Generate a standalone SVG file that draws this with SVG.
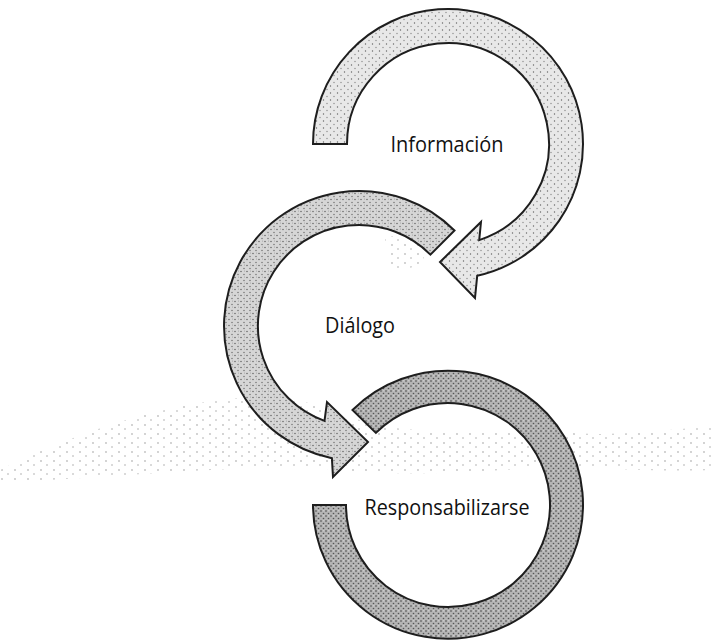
<svg xmlns="http://www.w3.org/2000/svg" width="715" height="641" viewBox="0 0 715 641">
  <defs>
    <pattern id="st1" width="7" height="7" patternUnits="userSpaceOnUse">
      <rect width="7" height="7" fill="#e8e8e8"/>
      <circle cx="1.5" cy="2" r="0.7" fill="#666"/>
      <circle cx="5" cy="5.5" r="0.7" fill="#888"/>
    </pattern>
    <pattern id="st2" width="6" height="6" patternUnits="userSpaceOnUse">
      <rect width="6" height="6" fill="#d6d6d6"/>
      <circle cx="1" cy="1.5" r="0.7" fill="#555"/>
      <circle cx="4" cy="4.5" r="0.7" fill="#666"/>
      <circle cx="4.5" cy="1" r="0.5" fill="#999"/>
    </pattern>
    <pattern id="st3" width="5" height="5" patternUnits="userSpaceOnUse">
      <rect width="5" height="5" fill="#b4b4b4"/>
      <circle cx="1" cy="1" r="0.8" fill="#444"/>
      <circle cx="3.5" cy="3.5" r="0.8" fill="#555"/>
      <circle cx="3.8" cy="0.8" r="0.5" fill="#eee"/>
    </pattern>
    <pattern id="noise" width="13" height="9" patternUnits="userSpaceOnUse">
      <circle cx="2" cy="2" r="0.7" fill="#888"/>
      <circle cx="8" cy="6" r="0.7" fill="#999"/>
    </pattern>
  </defs>
  <style>
    .arc { stroke: #1e1e1e; stroke-width: 2; stroke-linejoin: miter; }
    .lbl { font-family: "Open Sans", "Noto Sans", "Liberation Sans", sans-serif; font-size: 22px; fill: #111; text-anchor: middle; }
  </style>

  <g id="background-noise">
    <path d="M0,470 C60,440 150,405 240,398 C300,394 330,410 360,420 C420,440 500,425 560,432 C620,438 680,428 715,426 L715,470 C650,472 600,468 560,466 C500,470 420,478 340,470 C250,462 120,478 0,482 Z" fill="url(#noise)"/>
    <path d="M385,238 C405,232 420,240 425,255 C420,270 400,272 388,265 Z" fill="url(#noise)"/>
  </g>

  <g id="connectors"></g>

  <g id="node-informacion">
    <path class="arc" fill="url(#st1)" d="M313,144 A135,135 0 1 1 477.2,275.8 L475,298 L440,262 L481,222 L479.2,240.1 A101,101 0 1 0 347,144 Z"/>
    <text class="lbl" x="447" y="152" textLength="113" lengthAdjust="spacingAndGlyphs">Información</text>
  </g>

  <g id="node-dialogo">
    <path class="arc" fill="url(#st2)" d="M454.5,230.5 A135,135 0 1 0 331.9,458.2 L333,477 L368,442 L327,402 L324.5,420.9 A101,101 0 1 1 430.4,254.6 Z"/>
    <text class="lbl" x="360" y="333" textLength="70" lengthAdjust="spacingAndGlyphs">Diálogo</text>
  </g>

  <g id="node-responsabilizarse">
    <path class="arc" fill="url(#st3)" d="M313,505 A135,134 0 1 0 352.5,410 L375.9,432.9 A102,102 0 1 1 346,505 Z"/>
    <text class="lbl" x="447" y="515" textLength="165" lengthAdjust="spacingAndGlyphs">Responsabilizarse</text>
  </g>
</svg>
